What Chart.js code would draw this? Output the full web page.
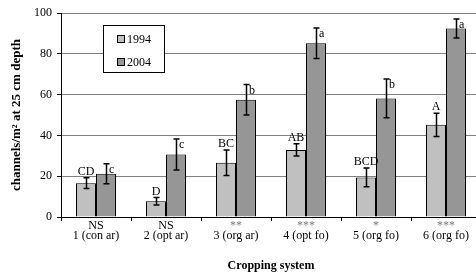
<!DOCTYPE html>
<html>
<head>
<meta charset="utf-8">
<script src="https://cdn.jsdelivr.net/npm/chart.js@4/dist/chart.umd.min.js"></script>
<style>
  html, body { margin: 0; padding: 0; background: #fff; overflow: hidden; }
  #wrap { width: 490px; height: 276px; }
</style>
</head>
<body>
<div id="wrap"><canvas id="c" width="490" height="276"></canvas></div>
<script>
const categories = ['1 (con ar)', '2 (opt ar)', '3 (org ar)', '4 (opt fo)', '5 (org fo)', '6 (org fo)'];
const significance = ['NS', 'NS', '**', '***', '*', '***'];
const values1994 = [16.6, 7.7, 26.6, 32.9, 19.4, 45.2];
const errors1994 = [2.6, 1.8, 6.2, 3.0, 4.6, 5.7];
const letters1994 = ['CD', 'D', 'BC', 'AB', 'BCD', 'A'];
const values2004 = [21.2, 30.6, 57.5, 85.2, 58.1, 92.4];
const errors2004 = [4.9, 7.6, 7.5, 7.5, 9.5, 4.7];
const letters2004 = ['c', 'c', 'b', 'a', 'b', 'a'];
const yTicks = [0, 20, 40, 60, 80, 100];

const SERIF = '"Liberation Serif", "Times New Roman", serif';
const errs = [errors1994, errors2004];
const letters = [letters1994, letters2004];

const errorBarPlugin = {
  id: 'errorBars',
  afterDatasetsDraw(chart) {
    const ctx = chart.ctx;
    const y = chart.scales.y;
    ctx.save();
    chart.data.datasets.forEach((ds, di) => {
      const meta = chart.getDatasetMeta(di);
      meta.data.forEach((bar, i) => {
        const v = ds.data[i], e = errs[di][i];
        const x = Math.round(bar.x) + 0.5;
        const yt = y.getPixelForValue(v + e);
        const yb = y.getPixelForValue(v - e);
        ctx.strokeStyle = '#000';
        ctx.lineWidth = 1.5;
        ctx.beginPath();
        ctx.moveTo(x, yt); ctx.lineTo(x, yb);
        ctx.moveTo(x - 3, yt); ctx.lineTo(x + 3, yt);
        ctx.moveTo(x - 3, yb); ctx.lineTo(x + 3, yb);
        ctx.stroke();
        ctx.fillStyle = '#000';
        ctx.font = '12px ' + SERIF;
        ctx.textBaseline = 'middle';
        if (di === 0) {
          ctx.textAlign = 'center';
          ctx.fillText(letters[di][i], bar.x, yt - 6);
        } else {
          ctx.textAlign = 'left';
          ctx.fillText(letters[di][i], bar.x + 3, yt + 6);
        }
      });
    });
    // significance row under the category axis
    const xs = chart.scales.x;
    ctx.font = '12px ' + SERIF;
    ctx.textAlign = 'center';
    ctx.textBaseline = 'middle';
    significance.forEach((s, i) => {
      ctx.fillStyle = s === 'NS' ? '#000' : '#7a7a7a';
      ctx.fillText(s, xs.getPixelForValue(i), xs.top + 9);
    });
    ctx.restore();
  }
};

const boxLegendPlugin = {
  id: 'boxLegend',
  afterDraw(chart) {
    const ctx = chart.ctx;
    ctx.save();
    ctx.fillStyle = '#fff';
    ctx.fillRect(103.5, 25.5, 61, 47);
    ctx.strokeStyle = '#000';
    ctx.lineWidth = 1;
    ctx.strokeRect(103.5, 25.5, 61, 47);
    const rows = [39, 62];
    chart.data.datasets.forEach((ds, di) => {
      const cy = rows[di];
      ctx.fillStyle = ds.backgroundColor;
      ctx.fillRect(117.5, cy - 3.5, 7, 7);
      ctx.strokeStyle = '#000';
      ctx.strokeRect(117.5, cy - 3.5, 7, 7);
      ctx.fillStyle = '#000';
      ctx.font = '12px ' + SERIF;
      ctx.textAlign = 'left';
      ctx.textBaseline = 'middle';
      ctx.fillText(ds.label, 127, cy + 0.5);
    });
    ctx.restore();
  }
};

new Chart(document.getElementById('c'), {
  type: 'bar',
  data: {
    labels: categories,
    datasets: [
      { label: '1994', data: values1994, backgroundColor: '#c0c0c0', borderColor: '#000', borderWidth: 1,
        categoryPercentage: 40 / 70, barPercentage: 1 },
      { label: '2004', data: values2004, backgroundColor: '#969696', borderColor: '#000', borderWidth: 1,
        categoryPercentage: 40 / 70, barPercentage: 1 }
    ]
  },
  options: {
    responsive: false,
    animation: false,
    layout: { padding: { top: 13, right: 9, left: 0, bottom: 0 } },
    plugins: { legend: { display: false }, tooltip: { enabled: false } },
    scales: {
      x: {
        offset: true,
        grid: { display: true, drawOnChartArea: false, offset: true, color: '#000', tickColor: '#000', tickLength: 4 },
        border: { display: true, color: '#000', width: 1 },
        ticks: { color: '#000', font: { family: SERIF, size: 12 }, padding: 8, maxRotation: 0, autoSkip: false },
        title: { display: true, text: 'Cropping system', color: '#000',
                 font: { family: SERIF, size: 12, weight: 'bold' }, padding: { top: 0, bottom: 3 } },
        afterFit: s => { s.height = 59; }
      },
      y: {
        min: 0, max: 100,
        afterBuildTicks: s => { s.ticks = yTicks.map(v => ({ value: v })); },
        grid: { color: '#808080', tickColor: '#000', tickLength: 4, lineWidth: 1 },
        border: { display: true, color: '#000', width: 1 },
        ticks: { color: '#000', font: { family: SERIF, size: 12 }, padding: 5 },
        title: { display: true, text: 'channels/m\u00B2 at 25 cm depth', color: '#000',
                 font: { family: SERIF, size: 13, weight: 'bold' }, padding: { top: 9, bottom: 0 } },
        afterFit: s => { s.width = 61; }
      }
    }
  },
  plugins: [errorBarPlugin, boxLegendPlugin]
});
</script>
</body>
</html>
